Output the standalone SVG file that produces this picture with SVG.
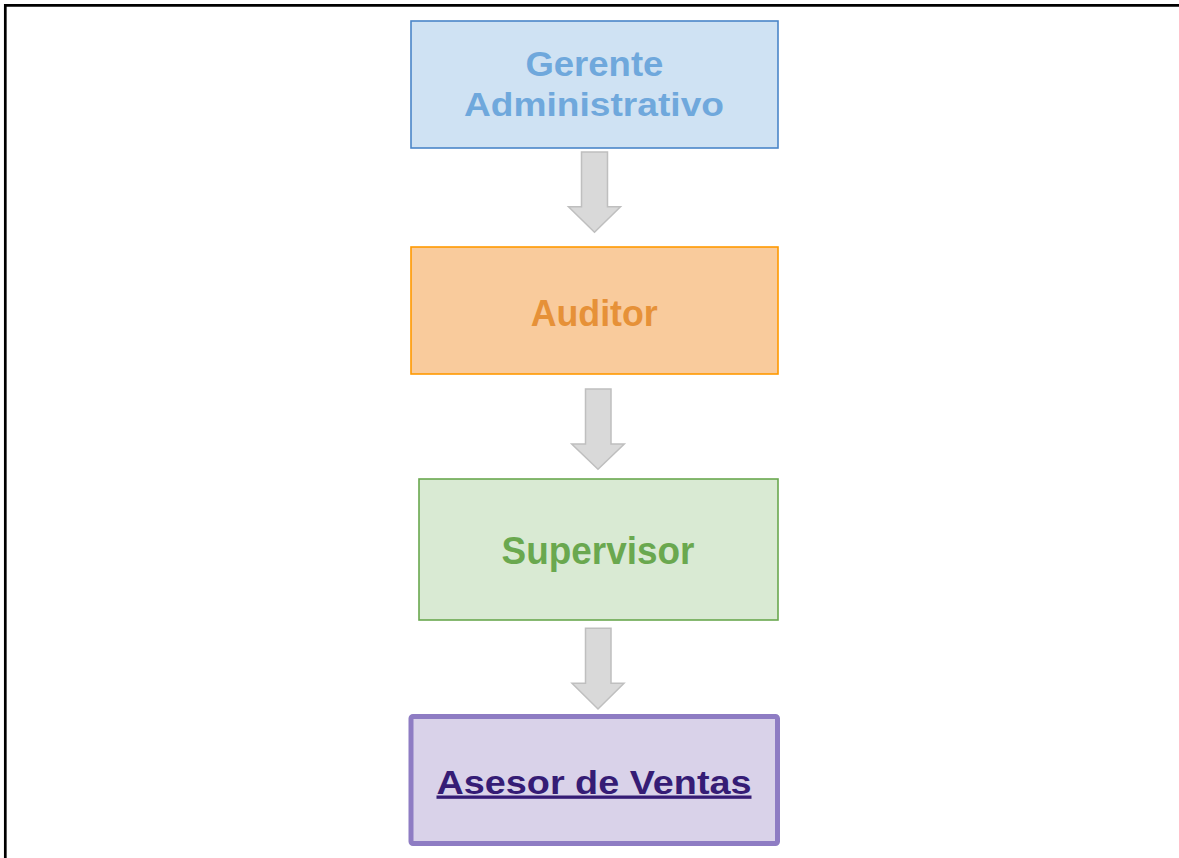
<svg xmlns="http://www.w3.org/2000/svg" width="1179" height="858" viewBox="0 0 1179 858">
  <style>
    .lbl { font-family: "Liberation Sans", Arial, sans-serif; font-weight: bold; text-anchor: middle; }
    .arrow { fill: #d9d9d9; stroke: #bfbfbf; stroke-width: 1.5; stroke-linejoin: miter; }
  </style>
  <rect x="0" y="0" width="1179" height="858" fill="#ffffff"/>
  <path d="M5.3 858 V5.3 H1179" fill="none" stroke="#000000" stroke-width="2.7"/>

  <g id="connectors">
    <path class="arrow" d="M581.5 152 H607.5 V206.7 H620.5 L594.5 232.3 L568.5 206.7 H581.5 Z"/>
    <path class="arrow" d="M585.5 389 H611 V444 H624.3 L598 469.3 L571.7 444 H585.5 Z"/>
    <path class="arrow" d="M585.5 628.3 H611 V683.3 H624 L598 709 L572 683.3 H585.5 Z"/>
  </g>

  <g id="gerente">
    <rect x="411" y="21" width="367" height="127" fill="#cfe2f3" stroke="#4a86c8" stroke-width="1.6"/>
    <text class="lbl" x="594.4" y="76" font-size="35" fill="#6fa8dc" textLength="138" lengthAdjust="spacingAndGlyphs">Gerente</text>
    <text class="lbl" x="594" y="116" font-size="34" fill="#6fa8dc" textLength="260" lengthAdjust="spacingAndGlyphs">Administrativo</text>
  </g>

  <g id="auditor">
    <rect x="411" y="247" width="367" height="127" fill="#f9cb9c" stroke="#ff9900" stroke-width="1.6"/>
    <text class="lbl" x="594.2" y="325.5" font-size="37" fill="#e69138" textLength="127" lengthAdjust="spacingAndGlyphs">Auditor</text>
  </g>

  <g id="supervisor">
    <rect x="419" y="479" width="359" height="141" fill="#d9ead3" stroke="#6aa84f" stroke-width="1.6"/>
    <text class="lbl" x="598" y="564" font-size="38" fill="#6aa84f" textLength="193" lengthAdjust="spacingAndGlyphs">Supervisor</text>
  </g>

  <g id="asesor">
    <rect x="411" y="716.5" width="366.5" height="127" rx="2" fill="#d9d2e9" stroke="#8e7cc3" stroke-width="5"/>
    <text class="lbl" x="594" y="793.5" font-size="33" fill="#351c75" text-decoration="underline" textLength="315" lengthAdjust="spacingAndGlyphs">Asesor de Ventas</text>
  </g>
</svg>
